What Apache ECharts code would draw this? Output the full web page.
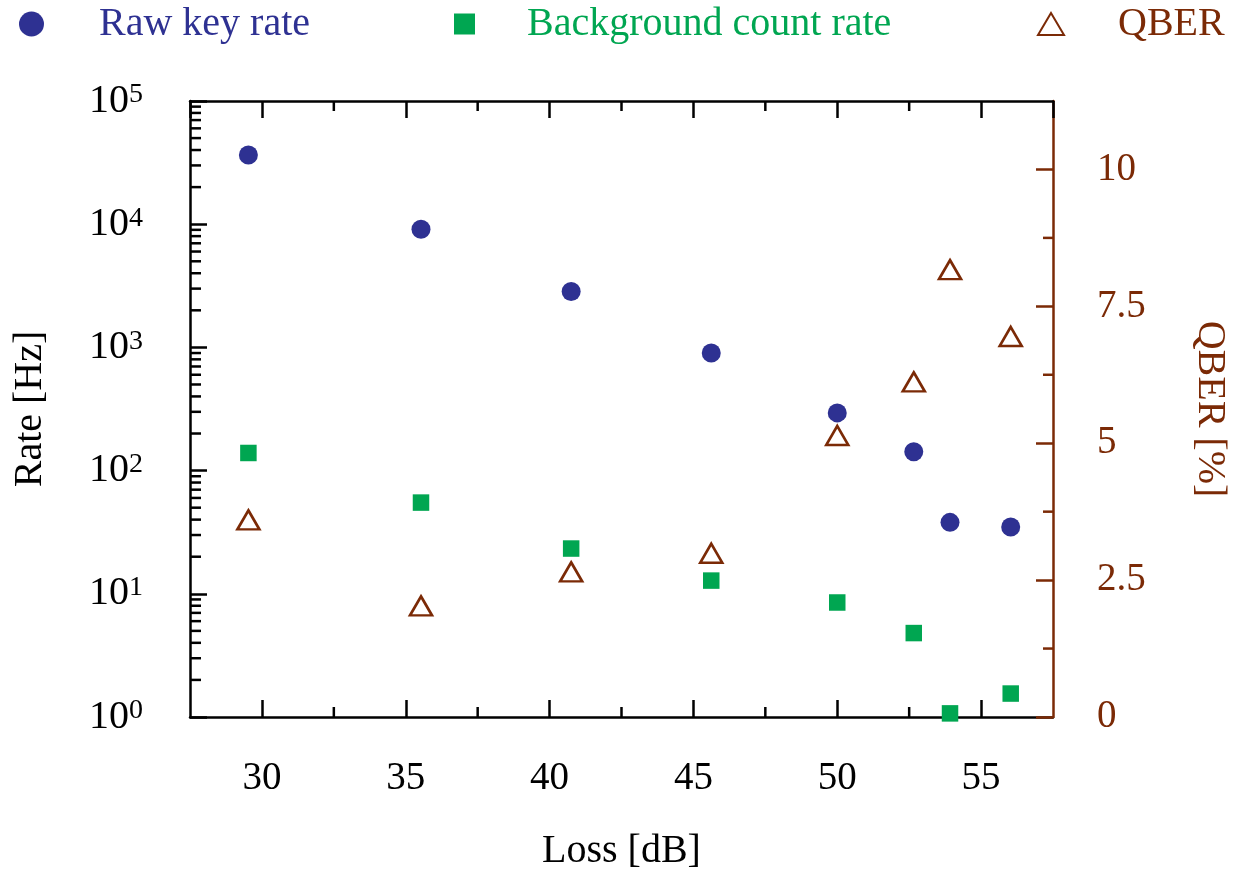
<!DOCTYPE html>
<html>
<head>
<meta charset="utf-8">
<script src="https://cdn.jsdelivr.net/npm/echarts@6/dist/echarts.min.js"></script>
<style>
html, body { margin: 0; padding: 0; background: #fff; }
#chart { width: 1238px; height: 876px; }
</style>
</head>
<body>
<div id="chart"></div>
<script>
// Measured points: fibre loss vs. detected rates and error rate
const lossDb = [29.53, 35.53, 40.75, 45.62, 50.0, 52.66, 53.92, 56.03];
const rawKeyRate = [36500, 9100, 2840, 900, 294, 142, 38, 34.8];
const backgroundRate = [139, 55, 23.3, 12.8, 8.5, 4.8, 1.07, 1.55];
const qberPercent = [3.6, 2.03, 2.65, 2.99, 5.14, 6.12, 8.17, 6.95];

// Axis ranges and tick positions
const lossRange = [27.5, 57.5];
const rateRange = [1, 100000];
const qberRange = [0, 11.25];
const qberLabelStep = 2.5;
const lossMinorTicks = [32.5, 37.5, 42.5, 47.5, 52.5];
const qberMinorTicks = [1.25, 3.75, 6.25, 8.75];
const rateDecades = [1, 10, 100, 1000, 10000];
const rateMinorTicks = [];
rateDecades.forEach(d => { for (let m = 2; m <= 9; m++) rateMinorTicks.push(m * d); });

const BLUE = '#2E3192';
const GREEN = '#00A651';
const BROWN = '#7B2A06';
const FONT = 'Liberation Serif';

const chart = echarts.init(document.getElementById('chart'), null, { renderer: 'canvas' });

// Short tick marks drawn through the axes' own scales
function tickSeries(points, xAxisIndex, yAxisIndex, dx, dy, color) {
  return {
    type: 'custom',
    xAxisIndex: xAxisIndex,
    yAxisIndex: yAxisIndex,
    silent: true,
    clip: false,
    z: 3,
    data: points,
    renderItem: function (params, api) {
      const p = api.coord([api.value(0), api.value(1)]);
      return {
        type: 'line',
        shape: { x1: p[0], y1: p[1], x2: p[0] + dx, y2: p[1] + dy },
        style: { stroke: color, lineWidth: 2.5 }
      };
    }
  };
}

function legendItem(name, left, color, iconW, iconH, gap) {
  return {
    data: [name],
    left: left,
    top: 4,
    padding: 0,
    orient: 'horizontal',
    itemWidth: iconW,
    itemHeight: iconH,
    selectedMode: false,
    textStyle: {
      color: color,
      fontFamily: FONT,
      fontSize: 40,
      lineHeight: 40,
      padding: [0, 0, 0, gap]
    }
  };
}

const option = {
  animation: false,
  backgroundColor: '#fff',
  textStyle: { fontFamily: FONT },
  legend: [
    legendItem('Raw key rate', 19, BLUE, 25, 25, 50),
    legendItem('Background count rate', 454, GREEN, 21, 21, 47),
    legendItem('QBER', 1037, BROWN, 26, 22, 49)
  ],
  grid: { left: 190, right: 185, top: 101, bottom: 152 },
  xAxis: [
    {
      type: 'value',
      position: 'bottom',
      min: lossRange[0],
      max: lossRange[1],
      name: 'Loss [dB]',
      nameLocation: 'middle',
      nameGap: 114,
      nameTextStyle: { color: '#000', fontFamily: FONT, fontSize: 40 },
      axisLine: { show: true, lineStyle: { color: '#000', width: 2.5 } },
      axisTick: { show: true, inside: true, length: 17, lineStyle: { color: '#000', width: 2.5 } },
      axisLabel: { color: '#000', fontFamily: FONT, fontSize: 39, margin: 42, showMinLabel: false, showMaxLabel: false },
      splitLine: { show: false },
      z: 0
    },
    {
      type: 'value',
      position: 'top',
      min: lossRange[0],
      max: lossRange[1],
      axisLine: { show: true, lineStyle: { color: '#000', width: 2.5 } },
      axisTick: { show: true, inside: true, length: 17, lineStyle: { color: '#000', width: 2.5 } },
      axisLabel: { show: false },
      splitLine: { show: false },
      z: 2
    }
  ],
  yAxis: [
    {
      type: 'log',
      logBase: 10,
      position: 'left',
      min: rateRange[0],
      max: rateRange[1],
      name: 'Rate [Hz]',
      nameLocation: 'middle',
      nameRotate: 90,
      nameGap: 140,
      nameTextStyle: { color: '#000', fontFamily: FONT, fontSize: 40 },
      axisLine: { show: true, lineStyle: { color: '#000', width: 2.5 } },
      axisTick: { show: true, inside: true, length: 17, lineStyle: { color: '#000', width: 2.5 } },
      axisLabel: {
        margin: 47,
        formatter: function (v) {
          const e = Math.round(Math.log10(v));
          return '{b|10}{s|' + e + '}';
        },
        rich: {
          b: { color: '#000', fontFamily: FONT, fontSize: 40, lineHeight: 40 },
          s: { color: '#000', fontFamily: FONT, fontSize: 28, lineHeight: 18, verticalAlign: 'top' }
        }
      },
      splitLine: { show: false },
      z: 0
    },
    {
      type: 'value',
      position: 'right',
      min: qberRange[0],
      max: qberRange[1],
      interval: qberLabelStep,
      name: 'QBER [%]',
      nameLocation: 'middle',
      nameRotate: -90,
      nameGap: 136,
      nameTextStyle: { color: BROWN, fontFamily: FONT, fontSize: 40 },
      axisLine: { show: true, lineStyle: { color: BROWN, width: 2.5 } },
      axisTick: { show: true, inside: true, length: 17, lineStyle: { color: BROWN, width: 2.5 } },
      axisLabel: { color: BROWN, fontFamily: FONT, fontSize: 39, margin: 44, showMaxLabel: false },
      splitLine: { show: false },
      z: 1
    }
  ],
  series: [
    {
      name: 'Raw key rate',
      type: 'scatter',
      xAxisIndex: 0,
      yAxisIndex: 0,
      symbol: 'circle',
      symbolSize: 19,
      itemStyle: { color: BLUE, opacity: 1 },
      data: lossDb.map((x, i) => [x, rawKeyRate[i]]),
      z: 4
    },
    {
      name: 'Background count rate',
      type: 'scatter',
      xAxisIndex: 0,
      yAxisIndex: 0,
      symbol: 'rect',
      symbolSize: 16.5,
      itemStyle: { color: GREEN, opacity: 1 },
      data: lossDb.map((x, i) => [x, backgroundRate[i]]),
      z: 4
    },
    {
      name: 'QBER',
      type: 'scatter',
      xAxisIndex: 0,
      yAxisIndex: 1,
      symbol: 'triangle',
      symbolSize: [22, 19],
      itemStyle: { color: 'rgba(255,255,255,0)', borderColor: BROWN, borderWidth: 2.6, opacity: 1 },
      data: lossDb.map((x, i) => [x, qberPercent[i]]),
      z: 4
    },
    tickSeries(lossMinorTicks.map(v => [v, rateRange[0]]), 0, 0, 0, -10, '#000'),
    tickSeries(lossMinorTicks.map(v => [v, rateRange[1]]), 0, 0, 0, 10, '#000'),
    tickSeries(rateMinorTicks.map(v => [lossRange[0], v]), 0, 0, 11, 0, '#000'),
    tickSeries(qberMinorTicks.map(v => [lossRange[1], v]), 0, 1, -10, 0, BROWN)
  ]
};

chart.setOption(option);
</script>
</body>
</html>
